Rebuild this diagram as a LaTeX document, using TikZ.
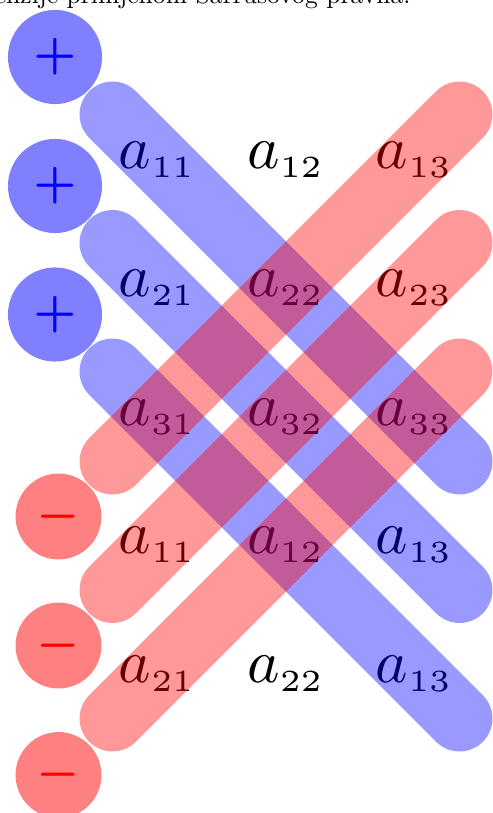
\documentclass[tikz,border=0pt]{standalone}
\usepackage{graphicx}
\usepackage{tikz}

\newcommand{\elem}[1]{\scalebox{2.4}{$a_{\scriptscriptstyle #1}$}}
\newcommand{\sgn}[1]{\scalebox{2.4}{\boldmath$\scriptstyle #1$}}

\begin{document}
\begin{tikzpicture}[x=0.39pt,y=0.39pt,yscale=-1,xscale=1,
  plus/.style={circle,fill=blue!50,text=blue,inner sep=0pt,minimum size=36.7pt},
  minus/.style={circle,fill=red!50,text=red,inner sep=0pt,minimum size=33.5pt},
  blueband/.style={color=blue,draw opacity=0.4,line width=25.7pt,line cap=round},
  redband/.style={color=red,draw opacity=0.4,line width=25.7pt,line cap=round}]
\useasboundingbox (0,0) rectangle (492,813);

% Text Node
\draw (411,4) node (cap) [anchor=base east,inner sep=0pt] {dimenzije primjenom Sarrusovog pravila.};

%Shape: Circle
\draw (55,57) node (p1) [plus] {\sgn{+}};
%Shape: Circle
\draw (55,186) node (p2) [plus] {\sgn{+}};
%Shape: Circle
\draw (55,314.5) node (p3) [plus] {\sgn{+}};
%Shape: Circle
\draw (58.5,516.5) node (m1) [minus] {\sgn{-}};
%Shape: Circle
\draw (58.5,645.5) node (m2) [minus] {\sgn{-}};
%Shape: Circle
\draw (58.5,775) node (m3) [minus] {\sgn{-}};

% Text Node
\draw (157.5,159.5) node (a11) {\elem{11}};
% Text Node
\draw (286,159.5) node (a12) {\elem{12}};
% Text Node
\draw (414.5,159.5) node (a13) {\elem{13}};
% Text Node
\draw (157.5,288) node (a21) {\elem{21}};
% Text Node
\draw (286,288) node (a22) {\elem{22}};
% Text Node
\draw (414.5,288) node (a23) {\elem{23}};
% Text Node
\draw (157.5,416.5) node (a31) {\elem{31}};
% Text Node
\draw (286,416.5) node (a32) {\elem{32}};
% Text Node
\draw (414.5,416.5) node (a33) {\elem{33}};
% Text Node
\draw (157.5,545) node (b11) {\elem{11}};
% Text Node
\draw (286,545) node (b12) {\elem{12}};
% Text Node
\draw (414.5,545) node (b13) {\elem{13}};
% Text Node
\draw (157.5,673.5) node (b21) {\elem{21}};
% Text Node
\draw (286,673.5) node (b22) {\elem{22}};
% Text Node
\draw (414.5,673.5) node (b23) {\elem{13}};

%Straight Lines
\draw [blueband] (112.5,114.5) -- (459.5,461.5) ;
%Straight Lines
\draw [blueband] (112.5,243) -- (459.5,590) ;
%Straight Lines
\draw [blueband] (112.5,371.5) -- (459.5,718.5) ;

%Straight Lines
\draw [redband] (112.5,461.5) -- (459.5,114.5) ;
%Straight Lines
\draw [redband] (112.5,590) -- (459.5,243) ;
%Straight Lines
\draw [redband] (112.5,718.5) -- (459.5,371.5) ;

\end{tikzpicture}
\end{document}
